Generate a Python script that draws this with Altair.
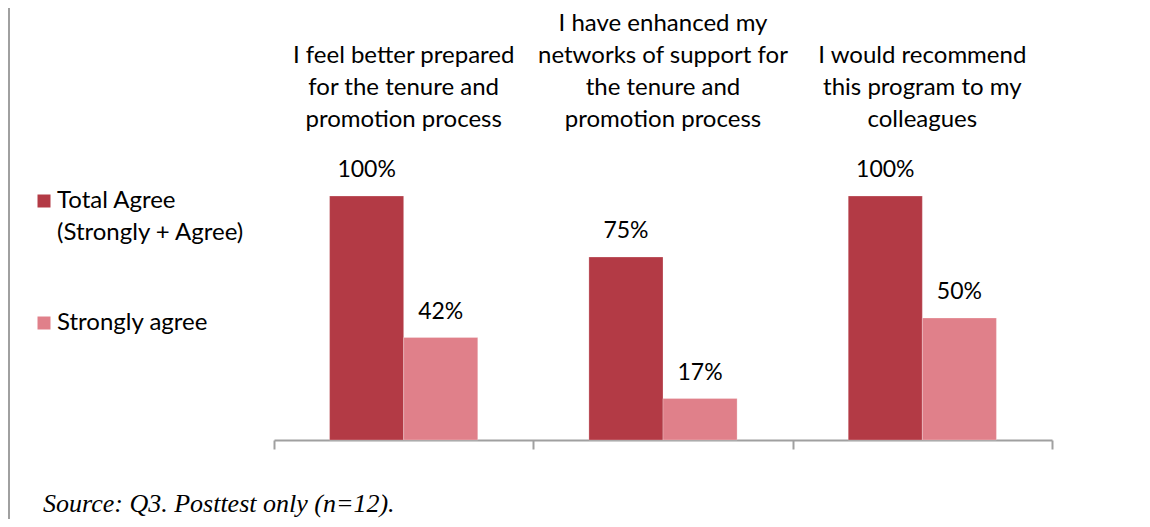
import altair as alt
import pandas as pd

categories = [
    "I feel better prepared|for the tenure and|promotion process",
    "I have enhanced my|networks of support for|the tenure and|promotion process",
    "I would recommend|this program to my|colleagues",
]
series = ["Total Agree (Strongly + Agree)", "Strongly agree"]
total_agree = [100, 75, 100]
strongly_agree = [42, 17, 50]
colors = ["#B33A45", "#E0808A"]

rows = []
for c, t, s in zip(categories, total_agree, strongly_agree):
    rows.append({"cat": c, "series": series[0], "value": t})
    rows.append({"cat": c, "series": series[1], "value": s})
df = pd.DataFrame(rows)

W, H = 778, 244
LEFT = 266
FONT = "Lato"

xscale = alt.Scale(domain=categories, paddingInner=0, paddingOuter=0)
yscale = alt.Scale(domain=[0, 100])
offscale = alt.Scale(domain=series, paddingInner=0, paddingOuter=0.75)

base = alt.Chart(df)

bars = base.mark_bar(stroke="#ffffff", strokeOpacity=0.25, strokeWidth=1).encode(
    x=alt.X("cat:N", scale=xscale, sort=categories, title=None,
            axis=alt.Axis(orient="bottom", labels=False, tickBand="extent",
                          domainColor="#A0A0A0", tickColor="#A0A0A0",
                          domainWidth=2, tickWidth=2, tickSize=9)),
    xOffset=alt.XOffset("series:N", scale=offscale, sort=series),
    y=alt.Y("value:Q", scale=yscale, axis=None),
    color=alt.Color(
        "series:N",
        scale=alt.Scale(domain=series, range=colors),
        sort=series,
        legend=alt.Legend(
            title=None, orient="none", legendX=-242, legendY=-7,
            symbolType="square", symbolSize=169, symbolStrokeWidth=0,
            labelFont=FONT, labelFontSize=24, labelColor="#000000",
            labelLimit=400, labelOffset=1, rowPadding=66,
            labelExpr="datum.label == 'Total Agree (Strongly + Agree)' ? ['Total Agree', '(Strongly + Agree)'] : datum.label",
        ),
    ),
)

labels = base.transform_calculate(lbl="datum.value + '%'").mark_text(
    baseline="alphabetic", dy=-19, font=FONT, fontSize=23, color="#000000"
).encode(
    x=alt.X("cat:N", scale=xscale, sort=categories, title=None,
            axis=alt.Axis(orient="top", ticks=False, tickSize=0, domain=False,
                          labelPadding=161, labelAngle=0,
                          labelFont=FONT, labelFontSize=24, labelColor="#000000",
                          labelLineHeight=32, labelLimit=400,
                          labelExpr="split(length(split(datum.label, '|')) < 4 ? '|' + datum.label : datum.label, '|')")),
    xOffset=alt.XOffset("series:N", scale=offscale, sort=series),
    y=alt.Y("value:Q", scale=yscale, axis=None),
    text="lbl:N",
)

border = alt.Chart(pd.DataFrame({"a": [0]})).mark_rule(color="#A0A0A0", strokeWidth=2).encode(
    x=alt.value(1 - LEFT), y=alt.value(-190), y2=alt.value(H + 80)
)

chart = (
    alt.layer(bars, labels, border)
    .resolve_scale(x="shared")
    .resolve_axis(x="independent")
    .properties(
        width=W,
        height=H,
        autosize=alt.AutoSizeParams(type="none"),
        padding={"left": LEFT, "top": 188, "right": 78, "bottom": 79},
        title=alt.TitleParams(
            "Source: Q3. Posttest only (n=12).",
            orient="bottom", anchor="start", frame="group", dx=43 - 8 - LEFT, offset=-30,
            font="Liberation Serif", fontStyle="italic", fontWeight="normal",
            fontSize=26, color="#000000",
        ),
    )
    .configure(font=FONT, style={"guide-label": {"lineHeight": 32}})
    .configure_view(stroke="transparent", strokeWidth=0)
)

chart.save("out.html", embed_options={"renderer": "svg", "actions": False})
